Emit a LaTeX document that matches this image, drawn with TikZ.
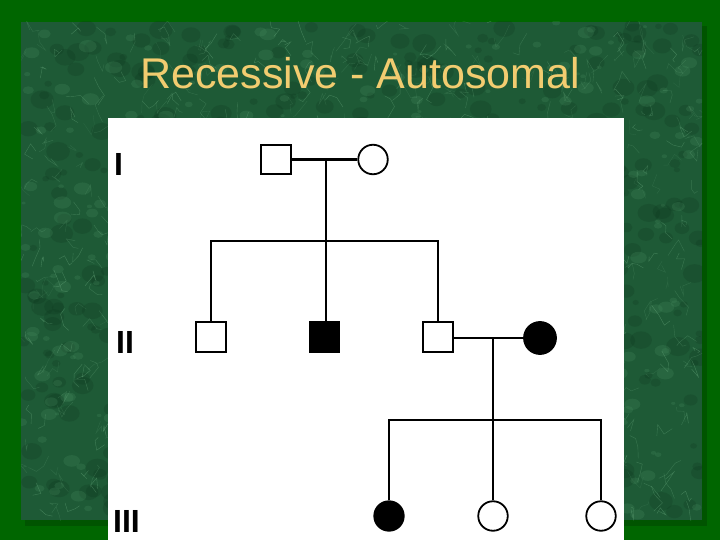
\documentclass[tikz,border=0pt]{standalone}
\usepackage{fontspec}
\setmainfont{Liberation Sans}
\definecolor{bordergreen}{RGB}{0,102,0}
\definecolor{shadowgreen}{RGB}{0,72,0}
\definecolor{marblebase}{RGB}{30,90,54}
\definecolor{marbledark}{RGB}{12,52,28}
\definecolor{marblelight}{RGB}{70,140,95}
\definecolor{marblevein}{RGB}{120,185,140}
\definecolor{titlegold}{RGB}{242,204,112}
\tikzset{
  male/.style={draw=black, line width=1.8pt, minimum size=29.5pt, inner sep=0pt, rectangle},
  female/.style={draw=black, line width=1.8pt, minimum size=29.5pt, inner sep=0pt, circle},
  affected/.style={fill=black},
  unaffected/.style={fill=white},
  kin/.style={line width=2.2pt, draw=black},
  genlabel/.style={font=\bfseries\fontsize{32}{36}\selectfont, anchor=base west, inner sep=0pt, text=black},
  titletext/.style={font=\fontsize{43}{50}\selectfont, text=titlegold, anchor=base, inner sep=0pt}
}
\begin{document}
\begin{tikzpicture}[x=1pt,y=-1pt]
\useasboundingbox (0,0) rectangle (720,540);
% background and border
\fill[bordergreen] (0,0) rectangle (720,540);
\fill[shadowgreen, opacity=0.6] (25,26) rectangle (707,526);
% marble panel
\begin{scope}
  \clip (21,22) rectangle (702,520);
  \fill[marblebase] (21,22) rectangle (702,520);
  \pgfmathsetseed{12}
  \foreach \i in {1,...,500} {
    \pgfmathsetmacro\xa{21+rnd*681}
    \pgfmathsetmacro\ya{22+rnd*498}
    \pgfmathsetmacro\ra{3+rnd*9}
    \fill[marbledark, opacity=0.22] (\xa,\ya) ellipse [x radius=\ra, y radius=0.8*\ra];
  }
  \foreach \i in {1,...,350} {
    \pgfmathsetmacro\xa{21+rnd*681}
    \pgfmathsetmacro\ya{22+rnd*498}
    \pgfmathsetmacro\ra{2+rnd*7}
    \fill[marblelight, opacity=0.25] (\xa,\ya) ellipse [x radius=\ra, y radius=0.7*\ra];
  }
  \foreach \i in {1,...,700} {
    \pgfmathsetmacro\xa{21+rnd*681}
    \pgfmathsetmacro\ya{22+rnd*498}
    \pgfmathsetmacro\op{0.12+rnd*0.3}
    \draw[marblevein, line width=0.4pt, opacity=\op] (\xa,\ya) -- ++(rand*9,rand*12) -- ++(rand*9,rand*12) -- ++(rand*9,rand*12);
  }
\end{scope}
% title
\node[titletext] (title) at (360,88.5) {Recessive - Autosomal};
% white panel
\fill[white] (108,118) rectangle (624,540);
% generation labels
\node[genlabel] (gI) at (114,175.5) {I};
\node[genlabel] (gII) at (116,353) {II};
\node[genlabel] (gIII) at (113,532) {III};
% generation I
\node[male, unaffected] (m1) at (276,159.5) {};
\node[female, unaffected] (f1) at (373,159.5) {};
% generation II
\node[male, unaffected] (c1) at (211,337) {};
\node[male, affected] (c2) at (324.7,337) {};
\node[male, unaffected] (c3) at (438,337) {};
\node[female, affected, minimum size=32pt] (w2) at (540,338) {};
% generation III
\node[female, affected] (g1) at (389,516) {};
\node[female, unaffected] (g2) at (493,516) {};
\node[female, unaffected] (g3) at (601,516) {};
% connectors generation I
\coordinate (d1) at (326,160);
\coordinate (s1) at (326,241);
\draw[kin, line width=3.6pt] (m1.east) -- (f1.west);
\draw[kin, line width=2.6pt] (d1) -- (s1);
\draw[kin] (c1.north) |- (s1) -| (c3.north);
\draw[kin] (s1) -- (c2.north -| s1);
% connectors generation II
\coordinate (d2) at (493,338);
\coordinate (s2) at (493,420);
\draw[kin, line width=2.4pt] (c3.east |- d2) -- (w2.west |- d2);
\draw[kin] (d2) -- (s2);
\draw[kin] (g1.north) |- (s2) -| (g3.north);
\draw[kin] (s2) -- (g2.north);
\end{tikzpicture}
\end{document}
